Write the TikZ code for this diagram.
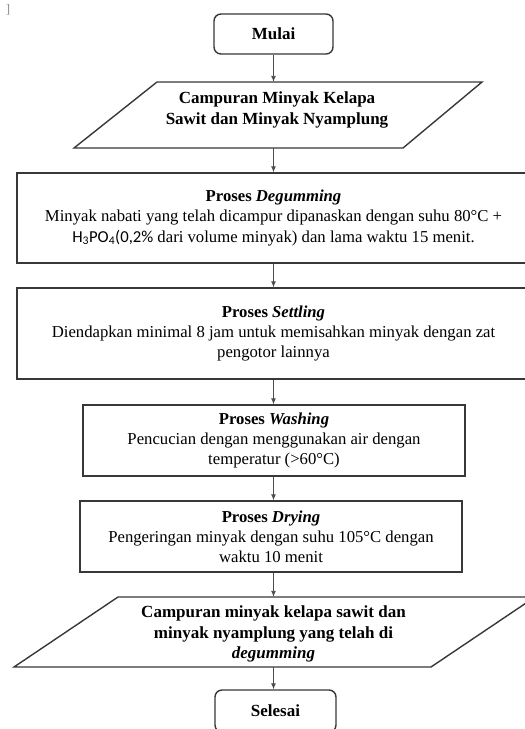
\documentclass[tikz,border=0pt]{standalone}
\usepackage{fontspec}
\setmainfont{Liberation Serif}
\newfontfamily\calib{Carlito}
\usetikzlibrary{arrows.meta}
\begin{document}
\begin{tikzpicture}[x=1pt,y=-1pt,
  boxline/.style={draw=black!78, line width=1.4pt},
  procbox/.style={boxline, inner sep=0pt, align=center, font=\fontsize{16.7}{20.2}\selectfont},
  termbox/.style={procbox, rounded corners=7pt, font=\fontsize{17}{20.2}\selectfont\bfseries},
  txt/.style={align=center, inner sep=0pt, font=\fontsize{17}{20.2}\selectfont\bfseries},
  anchorbox/.style={inner sep=0pt},
  conn/.style={draw=black!70, line width=0.9pt, -{Latex[length=6pt,width=5pt]}}]
\useasboundingbox (0,0) rectangle (525,729);
\clip (0,0) rectangle (525,729);

% stray mark
\node[inner sep=0pt, text=black!45, font=\fontsize{13}{13}\selectfont] (mark) at (8,10) {]};

% start
\node[termbox, minimum width=119pt, minimum height=40pt] (mulai) at (273.5,34) {Mulai};

% input parallelogram
\node[anchorbox, minimum width=200pt, minimum height=66pt] (in1) at (273.5,115) {};
\draw[boxline] (157,82) -- (482,82) -- (403,148) -- (74,148) -- cycle;
\node[txt] (in1t) at (277,110) {Campuran Minyak Kelapa\\Sawit dan Minyak Nyamplung};

% degumming
\node[procbox, minimum width=513pt, minimum height=90pt] (deg) at (273.5,218)
  {{\bfseries Proses \itshape Degumming}\\
   Minyak nabati yang telah dicampur dipanaskan dengan suhu 80°C +\\
   {\calib H\textsubscript{3}PO\textsubscript{4}(0,2\%} dari volume minyak) dan lama waktu 15 menit.};

% settling
\node[procbox, minimum width=513pt, minimum height=91pt] (set) at (273.5,333.5)
  {{\bfseries Proses \itshape Settling}\\
   Diendapkan minimal 8 jam untuk memisahkan minyak dengan zat\\
   pengotor lainnya};

% washing
\node[procbox, minimum width=382pt, minimum height=71pt] (wash) at (274,440.5)
  {{\bfseries Proses \itshape Washing}\\
   Pencucian dengan menggunakan air dengan\\
   temperatur (>60°C)};

% drying
\node[procbox, minimum width=382pt, minimum height=71pt] (dry) at (271,536.5)
  {{\bfseries Proses \itshape Drying}\\
   Pengeringan minyak dengan suhu 105°C dengan\\
   waktu 10 menit};

% output parallelogram
\node[anchorbox, minimum width=200pt, minimum height=70pt] (out) at (273.5,632) {};
\draw[boxline] (118,597) -- (535,597) -- (431,667) -- (14,667) -- cycle;
\node[txt] (outt) at (273.5,634)
  {Campuran minyak kelapa sawit dan\\minyak nyamplung yang telah di\\\textit{degumming}};

% end
\node[termbox, minimum width=121pt, minimum height=42pt] (selesai) at (275.5,711) {Selesai};

% connectors
\draw[conn] (mulai.south) -- (mulai.south |- in1.north);
\draw[conn] (in1.south) -- (in1.south |- deg.north);
\draw[conn] (deg.south -| in1.south) -- (in1.south |- set.north);
\draw[conn] (set.south -| in1.south) -- (in1.south |- wash.north);
\draw[conn] (wash.south -| in1.south) -- (in1.south |- dry.north);
\draw[conn] (dry.south -| in1.south) -- (in1.south |- out.north);
\draw[conn] (out.south) -- (out.south |- selesai.north);
\end{tikzpicture}
\end{document}
